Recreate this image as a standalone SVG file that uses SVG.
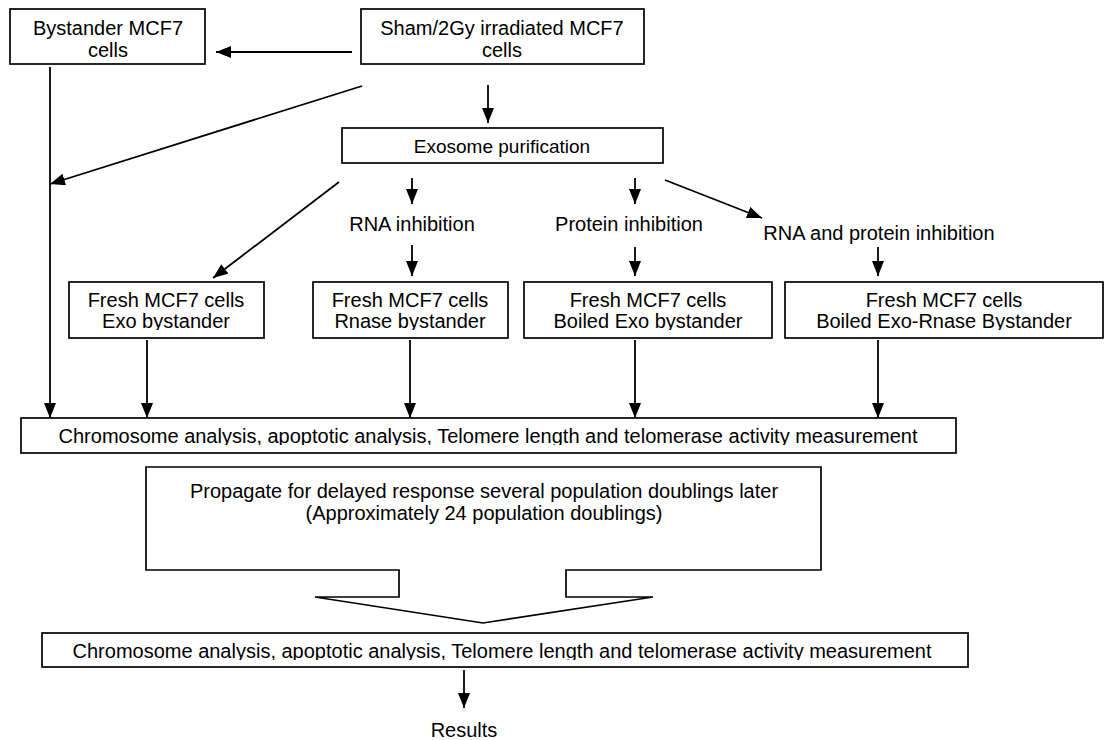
<svg xmlns="http://www.w3.org/2000/svg" width="1112" height="740" viewBox="0 0 1112 740">
<style>
.box{fill:#fff;stroke:#000;stroke-width:1.7}
.t{font-family:"Liberation Sans",Arial,sans-serif;font-size:20px;fill:#000;text-anchor:middle}
.sm{font-size:19px}
.c{stroke:#000;stroke-width:1.8;fill:none}
.a{marker-end:url(#ah)}
</style>
<defs>
<marker id="ah" markerUnits="userSpaceOnUse" markerWidth="15" markerHeight="12" viewBox="0 0 15 12" refX="15" refY="6" orient="auto">
<path d="M0,0 L15,6 L0,12 z" fill="#000"/>
</marker>
<clipPath id="cb1"><rect x="60" y="280" width="1050" height="50"/></clipPath>
<clipPath id="cch1"><rect x="20" y="419" width="940" height="26"/></clipPath>
<clipPath id="cch2"><rect x="40" y="634" width="930" height="26"/></clipPath>
</defs>
<g id="connectors">
<line class="c a" x1="352" y1="52" x2="216" y2="52"/>
<line class="c a" x1="362" y1="86" x2="50" y2="184"/>
<line class="c a" x1="50" y1="67" x2="50" y2="418"/>
<line class="c a" x1="488" y1="85" x2="488" y2="123"/>
<line class="c a" x1="339" y1="182" x2="213" y2="278"/>
<line class="c a" x1="412" y1="178" x2="412" y2="204"/>
<line class="c a" x1="635" y1="178" x2="635" y2="204"/>
<line class="c a" x1="665" y1="180" x2="762" y2="218"/>
<line class="c a" x1="412" y1="245" x2="412" y2="276"/>
<line class="c a" x1="635" y1="247" x2="635" y2="276"/>
<line class="c a" x1="878" y1="247" x2="878" y2="276"/>
<line class="c a" x1="147" y1="340" x2="147" y2="418"/>
<line class="c a" x1="410" y1="340" x2="410" y2="418"/>
<line class="c a" x1="635" y1="340" x2="635" y2="418"/>
<line class="c a" x1="878" y1="340" x2="878" y2="418"/>
<line class="c a" x1="464" y1="670" x2="464" y2="708"/>
</g>
<g id="bystander">
<rect class="box" x="10" y="9" width="195" height="55"/>
<text class="t" x="108" y="35">Bystander MCF7</text>
<text class="t" x="108" y="57">cells</text>
</g>
<g id="sham">
<rect class="box" x="361" y="9" width="283" height="55"/>
<text class="t" x="502" y="35">Sham/2Gy irradiated MCF7</text>
<text class="t" x="502" y="57">cells</text>
</g>
<g id="exosome">
<rect class="box" x="342" y="128" width="321" height="35"/>
<text class="t sm" x="502" y="153">Exosome purification</text>
</g>
<g id="rna-inhibition">
<text class="t" x="412" y="231">RNA inhibition</text>
</g>
<g id="protein-inhibition">
<text class="t" x="629" y="231">Protein inhibition</text>
</g>
<g id="rna-protein-inhibition">
<text class="t" x="879" y="240">RNA and protein inhibition</text>
</g>
<g id="fresh-exo">
<rect class="box" x="69" y="282" width="195" height="56"/>
<text class="t" x="166" y="307">Fresh MCF7 cells</text>
<text class="t" x="166" y="328" clip-path="url(#cb1)">Exo bystander</text>
</g>
<g id="fresh-rnase">
<rect class="box" x="313" y="282" width="195" height="56"/>
<text class="t" x="410" y="307">Fresh MCF7 cells</text>
<text class="t" x="410" y="328" clip-path="url(#cb1)">Rnase bystander</text>
</g>
<g id="fresh-boiled">
<rect class="box" x="524" y="282" width="248" height="56"/>
<text class="t" x="648" y="307">Fresh MCF7 cells</text>
<text class="t" x="648" y="328" clip-path="url(#cb1)">Boiled Exo bystander</text>
</g>
<g id="fresh-boiled-rnase">
<rect class="box" x="785" y="282" width="318" height="56"/>
<text class="t" x="944" y="307">Fresh MCF7 cells</text>
<text class="t" x="944" y="328" clip-path="url(#cb1)">Boiled Exo-Rnase Bystander</text>
</g>
<g id="analysis-1">
<rect class="box" x="21" y="418" width="935" height="35"/>
<text class="t" x="488" y="443" clip-path="url(#cch1)">Chromosome analysis, apoptotic analysis, Telomere length and telomerase activity measurement</text>
</g>
<g id="propagate">
<path class="box" d="M146,467 H821 V570 H566 V597 H653 L483,623 L315,597 H399 V570 H146 Z"/>
<text class="t" x="484" y="498">Propagate for delayed response several population doublings later</text>
<text class="t" x="484" y="520">(Approximately 24 population doublings)</text>
</g>
<g id="analysis-2">
<rect class="box" x="42" y="633" width="926" height="34"/>
<text class="t" x="502" y="658" clip-path="url(#cch2)">Chromosome analysis, apoptotic analysis, Telomere length and telomerase activity measurement</text>
</g>
<g id="results">
<text class="t" x="464" y="737">Results</text>
</g>
</svg>
